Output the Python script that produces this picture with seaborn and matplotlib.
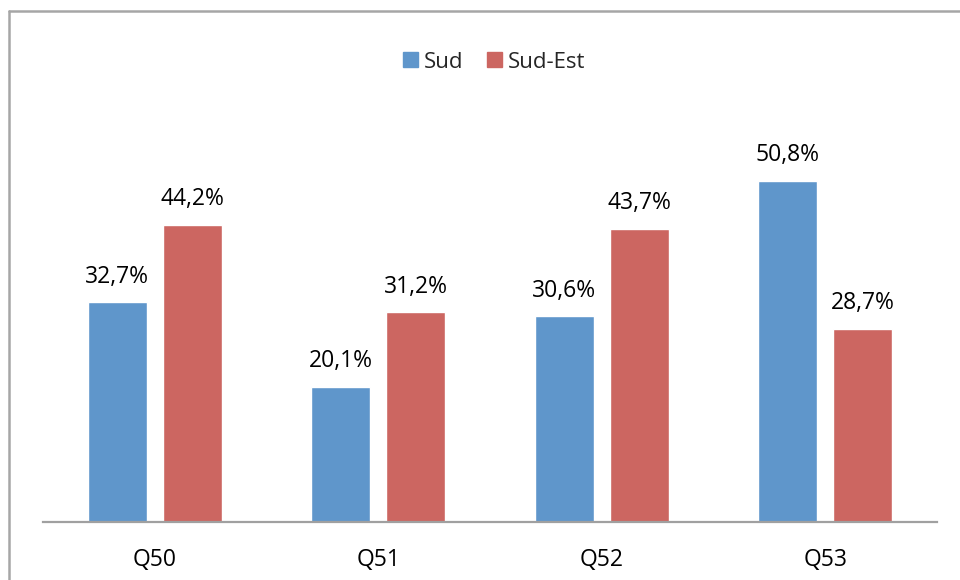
import matplotlib
matplotlib.use("Agg")
import matplotlib.pyplot as plt
from matplotlib.lines import Line2D
import seaborn as sns
import pandas as pd

categories = ["Q50", "Q51", "Q52", "Q53"]
series_names = ["Sud", "Sud-Est"]
sud = [32.7, 20.1, 30.6, 50.8]
sud_est = [44.2, 31.2, 43.7, 28.7]
colors = ["#5F96CB", "#CC6661"]

df = pd.DataFrame({
    "question": categories * 2,
    "zone": [series_names[0]] * len(categories) + [series_names[1]] * len(categories),
    "value": sud + sud_est,
})

sns.set_theme(style="white")
plt.rcParams["font.family"] = ["Open Sans", "DejaVu Sans"]

W, H = 960, 580
fig = plt.figure(figsize=(W / 100, H / 100), dpi=100)
ax = fig.add_axes([43 / W, 1 - 521.5 / H, (937 - 43) / W, (521.5 - 119.5) / H])

sns.barplot(data=df, x="question", y="value", hue="zone", order=categories,
            hue_order=series_names, palette=colors, width=0.67, gap=0.21,
            saturation=1, ax=ax, legend=False)

ax.set_xlim(-0.5, len(categories) - 0.5)
ax.set_ylim(0, 60)
ax.set_xlabel("")
ax.set_ylabel("")
ax.set_yticks([])
for s in ["top", "right", "left"]:
    ax.spines[s].set_visible(False)
ax.spines["bottom"].set_color("#A0A0A0")
ax.spines["bottom"].set_linewidth(1.6)
ax.tick_params(axis="x", length=0, pad=19, labelsize=16.5, labelcolor="black")

for container in ax.containers:
    labels = [f"{v:.1f}%".replace(".", ",") for v in container.datavalues]
    ax.bar_label(container, labels=labels, padding=10, fontsize=16.5, color="black")

# legend
handles = [plt.Rectangle((0, 0), 1, 1, color=c) for c in colors]
fig.legend(handles, series_names, loc="center", bbox_to_anchor=(494 / W, 1 - 62 / H),
           ncol=2, frameon=False, fontsize=16, handlelength=0.68, handleheight=0.68,
           handletextpad=0.27, columnspacing=1.05)

# chart area border (top and left edges)
fig.add_artist(Line2D([8.5 / W, 1], [1 - 10.5 / H, 1 - 10.5 / H], color="#A6A6A6", lw=1.8,
                      transform=fig.transFigure))
fig.add_artist(Line2D([8.5 / W, 8.5 / W], [0, 1 - 10.5 / H], color="#A6A6A6", lw=1.8,
                      transform=fig.transFigure))

fig.savefig("out.png", dpi=100)
